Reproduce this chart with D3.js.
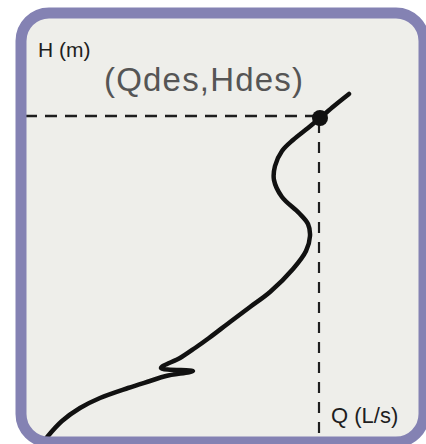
<!DOCTYPE html>
<html>
<head>
<meta charset="utf-8">
<script src="https://cdn.jsdelivr.net/npm/d3@7"></script>
<style>
  body { margin: 0; background: #ffffff; }
  svg { display: block; }
</style>
</head>
<body>
<script>
// Pump curve (Q and H in arbitrary units)
const curveQ = [322, 307, 293, 281, 266, 255, 248, 247, 255, 272, 281, 283, 279, 266, 243, 223, 203, 182, 168, 153, 134, 166, 139, 123, 101, 73, 53, 35, 21, 15];
const curveH = [350, 338, 326, 316, 304, 293, 278, 264, 247, 231, 220, 208, 193, 175, 152, 137, 122, 106, 96, 86, 76, 73, 68, 63, 56, 46, 36, 23, 8, 0];

// Design point
const designQ = 293;
const designH = 326;

// Labels
const yLabel = "H (m)";
const xLabel = "Q (L/s)";
const pointLabel = "(Qdes,Hdes)";

let width = 426, height = 444;

let svg = d3.select('body')
            .append('svg')
            .attr('width', width)
            .attr('height', height);

// Scales
const xScale = d3.scaleLinear()
    .domain([0, 400])
    .range([27, 427]);

const yScale = d3.scaleLinear()
    .domain([0, 430])
    .range([444, 14]);

// Panel background
svg.append("rect")
   .attr("x", 21)
   .attr("y", 13)
   .attr("width", 403)
   .attr("height", 429)
   .attr("rx", 28)
   .attr("fill", "#eeeeea");

svg.append("clipPath")
   .attr("id", "inner")
   .append("rect")
   .attr("x", 21)
   .attr("y", 13)
   .attr("width", 403)
   .attr("height", 429)
   .attr("rx", 28);

const plot = svg.append("g").attr("clip-path", "url(#inner)");

// Dashed guide lines to the design point
plot.append("line")
    .attr("x1", xScale(-2))
    .attr("x2", xScale(designQ - 7))
    .attr("y1", yScale(designH) - 2)
    .attr("y2", yScale(designH) - 2)
    .attr("stroke", "#1e1e1e")
    .attr("stroke-width", 2.5)
    .attr("stroke-dasharray", "12,8");

plot.append("line")
    .attr("x1", xScale(designQ - 1))
    .attr("x2", xScale(designQ - 1))
    .attr("y1", yScale(designH) + 4)
    .attr("y2", yScale(0))
    .attr("stroke", "#1e1e1e")
    .attr("stroke-width", 2.2)
    .attr("stroke-dasharray", "11,9");

// The curve
const pts = curveQ.map((q, i) => [q, curveH[i]]);
const line = d3.line()
    .x(d => xScale(d[0]))
    .y(d => yScale(d[1]))
    .curve(d3.curveCatmullRom.alpha(0.5));

plot.append("path")
    .datum(pts)
    .attr("fill", "none")
    .attr("stroke", "#111111")
    .attr("stroke-width", 4.5)
    .attr("stroke-linecap", "round")
    .attr("stroke-linejoin", "round")
    .attr("d", line);

// Design point blob
plot.append("circle")
    .attr("cx", xScale(designQ))
    .attr("cy", yScale(designH))
    .attr("r", 8)
    .attr("fill", "#111111");

// Texts
svg.append("text")
   .attr("x", 38)
   .attr("y", 57)
   .attr("font-family", "Liberation Sans, Arial, sans-serif")
   .attr("font-size", 21)
   .attr("fill", "#1e1e1e")
   .text(yLabel);

svg.append("text")
   .attr("x", 104)
   .attr("y", 91)
   .attr("font-family", "Liberation Sans, Arial, sans-serif")
   .attr("font-size", 33)
   .attr("fill", "#555555")
   .attr("textLength", 199)
   .attr("lengthAdjust", "spacing")
   .text(pointLabel);

svg.append("text")
   .attr("x", 331)
   .attr("y", 423)
   .attr("font-family", "Liberation Sans, Arial, sans-serif")
   .attr("font-size", 22)
   .attr("fill", "#1e1e1e")
   .text(xLabel);

// Rounded border
svg.append("rect")
   .attr("x", 21)
   .attr("y", 13)
   .attr("width", 403)
   .attr("height", 429)
   .attr("rx", 28)
   .attr("fill", "none")
   .attr("stroke", "#8482b3")
   .attr("stroke-width", 11);
</script>
</body>
</html>
